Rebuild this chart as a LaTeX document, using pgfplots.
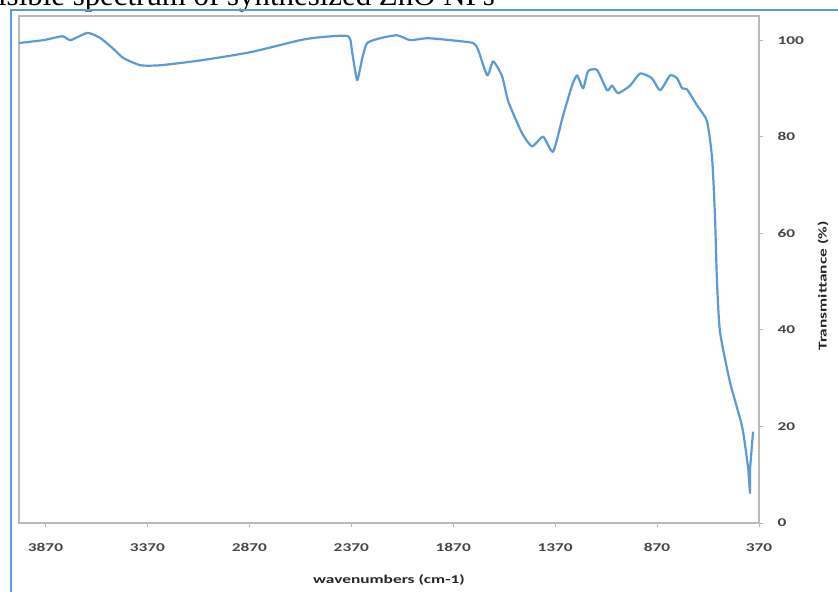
\documentclass[border=0pt]{standalone}
\usepackage{pgfplots}
\pgfplotsset{compat=1.18}
\usepackage{fontspec}
\newfontfamily\tickfont[FakeStretch=1.45]{Carlito}
\newfontfamily\titlefont{Liberation Serif}
\definecolor{specblue}{RGB}{91,155,213}
\definecolor{framegray}{RGB}{185,185,185}
\definecolor{labgray}{RGB}{70,70,70}
\pgfplotstableread{
wn T
4000 99.4
3880 100.0
3787 100.8
3747 100.0
3664 101.5
3600 100.4
3540 98.3
3488 96.3
3404 94.8
3306 94.8
3110 95.8
2865 97.5
2620 100.0
2522 100.6
2385 100.8
2365 97.3
2341 91.7
2316 96.3
2292 99.4
2228 100.4
2145 101.0
2081 100.0
1997 100.4
1885 100.0
1772 99.4
1747 97.9
1703 92.7
1674 95.6
1630 92.5
1600 87.3
1532 80.7
1483 78.0
1429 80.0
1380 76.9
1331 84.4
1287 90.6
1262 92.7
1233 90.0
1208 93.6
1164 93.8
1115 89.6
1091 90.6
1061 89.0
1002 90.6
953 93.1
895 92.1
855 89.6
806 92.7
772 92.1
747 90.0
723 89.8
674 86.5
625 83.2
600 75.5
586 63.6
576 49.9
561 39.5
512 29.1
453 20.0
424 11.6
414 6.2
414 11.0
399 18.9
}\spectrum
\begin{document}
\begin{tikzpicture}[x=1bp,y=1bp]
\useasboundingbox (0,0) rectangle (838,592);
\clip (0,0) rectangle (838,592);
\fill[white] (0,0) rectangle (838,592);
\node[font=\titlefont\fontsize{31}{35}\selectfont, anchor=base east, inner sep=0pt] at (495,586) {UV-visible spectrum of synthesized ZnO NPs};
\draw[specblue, line width=2.2bp] (11,-5) -- (11,582) -- (845,582);
\begin{axis}[
  scale only axis, width=740bp, height=507bp,
  at={(19bp,69bp)}, anchor=south west,
  x dir=reverse, xmin=370, xmax=4000, ymin=0, ymax=105,
  xtick={370,870,...,3870}, ytick={0,20,...,100},
  xtick pos=bottom, ytick pos=right, yticklabel pos=right,
  tick align=outside, major tick length=4bp,
  tick style={framegray, line width=0.9bp},
  axis line style={framegray, line width=1.4bp},
  /pgf/number format/1000 sep={},
  /pgf/number format/assume math mode=true,
  xticklabel style={font=\tickfont\bfseries\fontsize{12}{14}\selectfont, text=labgray, yshift=-13bp},
  yticklabel style={font=\tickfont\bfseries\fontsize{12}{14}\selectfont, text=labgray, xshift=11bp, anchor=west},
  xlabel={wavenumbers (cm-1)},
  xlabel style={font=\tickfont\bfseries\fontsize{12}{14}\selectfont, text=black!85, at={(axis description cs:0.5,0)}, anchor=center, yshift=-57bp},
  clip=false,
]
\draw[gray!55, line width=2.6bp] (rel axis cs:0,0) -- (rel axis cs:0,1) -- (rel axis cs:1,1);
\addplot[specblue, line width=2.2bp, line join=round, smooth, tension=0.35] table[x=wn, y=T] {\spectrum};
\end{axis}
\node[font=\tickfont\bfseries\fontsize{12}{14}\selectfont, text=black!85, rotate=90, anchor=center] at (823,306) {Transmittance (\%)};
\end{tikzpicture}
\end{document}
